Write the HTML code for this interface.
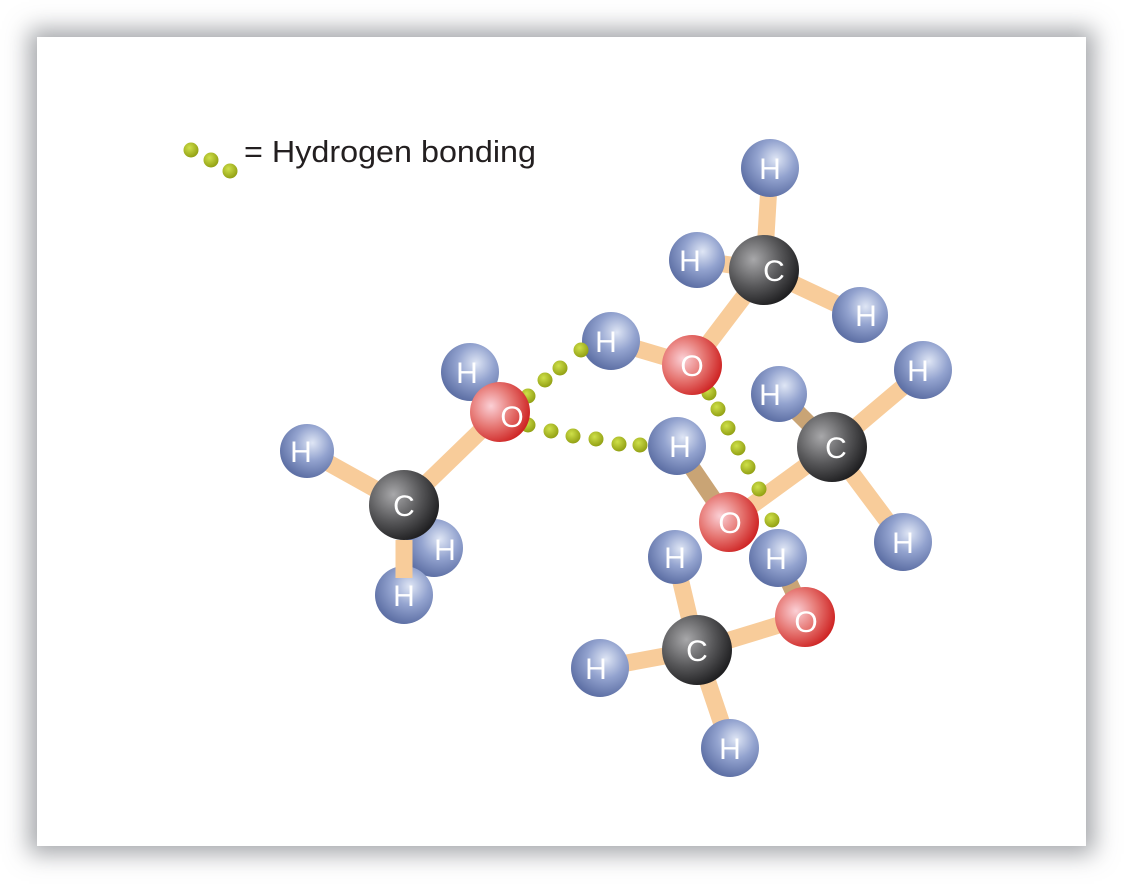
<!DOCTYPE html>
<html><head><style>
html,body{margin:0;padding:0;background:#fff;width:1124px;height:884px;overflow:hidden}
#box{position:absolute;left:37px;top:37px;width:1049px;height:809px;background:#fff;box-shadow:0 0 22px 8px rgba(90,92,100,0.55)}
svg{position:absolute;left:0;top:0}
text{font-family:"Liberation Sans",sans-serif}
</style></head><body>
<div id="box"></div>
<svg width="1124" height="884" viewBox="0 0 1124 884">
<defs>
<radialGradient id="gH" cx="0.6" cy="0.35" r="0.65"><stop offset="0" stop-color="#dfe6f5"/><stop offset="0.5" stop-color="#93a3cf"/><stop offset="1" stop-color="#5f71a6"/></radialGradient>
<radialGradient id="gO" cx="0.35" cy="0.4" r="0.7"><stop offset="0" stop-color="#fbd0d6"/><stop offset="0.5" stop-color="#e67773"/><stop offset="1" stop-color="#cc1c1c"/></radialGradient>
<radialGradient id="gC" cx="0.35" cy="0.35" r="0.7"><stop offset="0" stop-color="#a8a8aa"/><stop offset="0.55" stop-color="#58585a"/><stop offset="1" stop-color="#1e1e20"/></radialGradient>
<radialGradient id="gD" cx="0.4" cy="0.35" r="0.7"><stop offset="0" stop-color="#cfe04a"/><stop offset="1" stop-color="#8e9c10"/></radialGradient>
</defs>
<g fill="url(#gD)">
<circle cx="191" cy="150" r="7.5"/><circle cx="211" cy="160" r="7.5"/><circle cx="230" cy="171" r="7.5"/>
</g>
<text x="244" y="162" font-size="31" fill="#231f20" textLength="292" lengthAdjust="spacingAndGlyphs">= Hydrogen bonding</text>

<g stroke-linecap="round" stroke-width="17" stroke="#f8cc9a" fill="none">
<line x1="770" y1="168" x2="764" y2="270"/>
<line x1="697" y1="260" x2="764" y2="270"/>
<line x1="860" y1="315" x2="764" y2="270"/>
<line x1="692" y1="365" x2="764" y2="270"/>
<line x1="611" y1="341" x2="692" y2="365"/>
<line x1="500" y1="412" x2="404" y2="505"/>
<line x1="307" y1="451" x2="404" y2="505"/>
<line x1="923" y1="370" x2="832" y2="447"/>
<line x1="903" y1="542" x2="832" y2="447"/>
<line x1="729" y1="522" x2="832" y2="447"/>
<line x1="805" y1="617" x2="697" y2="650"/>
<line x1="675" y1="557" x2="697" y2="650"/>
<line x1="600" y1="668" x2="697" y2="650"/>
<line x1="730" y1="748" x2="697" y2="650"/>
</g>
<g stroke-linecap="round" stroke-width="17" stroke="#c9a475" fill="none">
<line x1="470" y1="372" x2="500" y2="412"/>
<line x1="434" y1="548" x2="404" y2="505"/>
<line x1="779" y1="394" x2="832" y2="447"/>
<line x1="677" y1="446" x2="729" y2="522"/>
<line x1="778" y1="558" x2="805" y2="617"/>
</g>

<g font-size="30" fill="#fff" text-anchor="middle">
<circle cx="434" cy="548" r="29" fill="url(#gH)"/><text x="445" y="560">H</text>
<circle cx="697" cy="260" r="28" fill="url(#gH)"/><text x="690" y="271">H</text>
<circle cx="770" cy="168" r="29" fill="url(#gH)"/><text x="770" y="179">H</text>
<circle cx="860" cy="315" r="28" fill="url(#gH)"/><text x="866" y="326">H</text>
<circle cx="764" cy="270" r="35" fill="url(#gC)"/><text x="774" y="281">C</text>
<circle cx="611" cy="341" r="29" fill="url(#gH)"/><text x="606" y="352">H</text>
<circle cx="470" cy="372" r="29" fill="url(#gH)"/><text x="467" y="383">H</text>
<circle cx="307" cy="451" r="27" fill="url(#gH)"/><text x="301" y="462">H</text>
<circle cx="404" cy="505" r="35" fill="url(#gC)"/><text x="404" y="516">C</text>
<circle cx="404" cy="595" r="29" fill="url(#gH)"/>
<line x1="404" y1="540" x2="404" y2="578" stroke="#f8cc9a" stroke-width="17"/>
<text x="404" y="606">H</text>
<circle cx="779" cy="394" r="28" fill="url(#gH)"/><text x="770" y="405">H</text>
<circle cx="923" cy="370" r="29" fill="url(#gH)"/><text x="918" y="381">H</text>
<circle cx="903" cy="542" r="29" fill="url(#gH)"/><text x="903" y="553">H</text>
<circle cx="677" cy="446" r="29" fill="url(#gH)"/><text x="680" y="457">H</text>
<circle cx="675" cy="557" r="27" fill="url(#gH)"/><text x="675" y="568">H</text>
<circle cx="600" cy="668" r="29" fill="url(#gH)"/><text x="596" y="679">H</text>
<circle cx="730" cy="748" r="29" fill="url(#gH)"/><text x="730" y="759">H</text>
</g>
<g fill="url(#gD)">
<circle cx="528" cy="396" r="7.5"/><circle cx="545" cy="380" r="7.5"/><circle cx="560" cy="368" r="7.5"/><circle cx="581" cy="350" r="7.5"/>
<circle cx="528" cy="425" r="7.5"/><circle cx="551" cy="431" r="7.5"/><circle cx="573" cy="436" r="7.5"/><circle cx="596" cy="439" r="7.5"/><circle cx="619" cy="444" r="7.5"/><circle cx="640" cy="445" r="7.5"/>
<circle cx="709" cy="393" r="7.5"/><circle cx="718" cy="409" r="7.5"/><circle cx="728" cy="428" r="7.5"/><circle cx="738" cy="448" r="7.5"/><circle cx="748" cy="467" r="7.5"/><circle cx="759" cy="489" r="7.5"/><circle cx="772" cy="520" r="7.5"/>
</g>
<g font-size="30" fill="#fff" text-anchor="middle">
<circle cx="692" cy="365" r="30" fill="url(#gO)"/><text x="692" y="376">O</text>
<circle cx="500" cy="412" r="30" fill="url(#gO)"/><text x="512" y="427">O</text>
<circle cx="832" cy="447" r="35" fill="url(#gC)"/><text x="836" y="458">C</text>
<circle cx="729" cy="522" r="30" fill="url(#gO)"/><text x="730" y="533">O</text>
<circle cx="778" cy="558" r="29" fill="url(#gH)"/><text x="776" y="569">H</text>
<circle cx="805" cy="617" r="30" fill="url(#gO)"/><text x="806" y="632">O</text>
<circle cx="697" cy="650" r="35" fill="url(#gC)"/><text x="697" y="661">C</text>
</g>
</svg>
</body></html>
